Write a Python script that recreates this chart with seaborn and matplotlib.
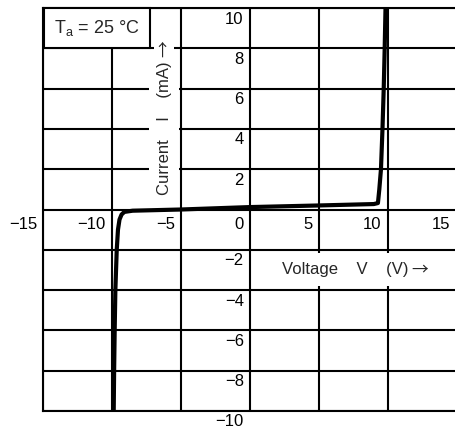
import matplotlib
matplotlib.use("Agg")
import matplotlib.pyplot as plt
import matplotlib.transforms as mtransforms
import seaborn as sns
import pandas as pd

# I-V curve (V in volts, I in mA)
voltage = [-9.87, -9.84, -9.80, -9.75, -9.65, -9.56, -9.45, -9.30, -9.10, -8.50,
           -5.0, 0.0, 5.0, 9.0, 9.30, 9.40, 9.52, 9.63, 9.72, 9.79, 9.85]
current = [-10.0, -8.0, -6.0, -4.0, -2.0, -1.0, -0.5, -0.25, -0.12, -0.06,
           0.0, 0.12, 0.2, 0.27, 0.32, 1.0, 2.0, 4.0, 6.0, 8.0, 10.0]

x_ticks = [-15, -10, -5, 0, 5, 10, 15]
y_ticks = [-10, -8, -6, -4, -2, 2, 4, 6, 8, 10]

sns.set_theme(style="white")
plt.rcParams["font.family"] = ["Liberation Sans", "DejaVu Sans"]
plt.rcParams["mathtext.fontset"] = "custom"
plt.rcParams["mathtext.rm"] = "Liberation Sans"

W, H = 456, 433
fig = plt.figure(figsize=(W / 100, H / 100), dpi=100)
ax = fig.add_axes([43 / W, 22 / H, 413.5 / W, 403 / H])

df = pd.DataFrame({"V": voltage, "I": current})
sns.lineplot(data=df, x="V", y="I", sort=False, estimator=None,
             color="black", linewidth=3.0, ax=ax, zorder=5)

ax.set_xlim(-15, 15)
ax.set_ylim(-10, 10)
ax.set_xticks(x_ticks)
ax.set_yticks([-10, -8, -6, -4, -2, 0, 2, 4, 6, 8, 10])
ax.grid(True, color="black", linewidth=1.5)
ax.tick_params(length=0, labelbottom=False, labelleft=False)
ax.set_xlabel("")
ax.set_ylabel("")
for side in ["left", "top", "bottom"]:
    ax.spines[side].set_color("black")
    ax.spines[side].set_linewidth(1.5)
ax.spines["right"].set_visible(False)

fs = 12
# x tick labels: right-aligned, just left of each gridline, below the V axis
for v in x_ticks:
    off = mtransforms.offset_copy(ax.transData, fig=fig, x=-6, y=-15, units="dots")
    ax.text(v, 0, str(v).replace("-", "\u2212"), transform=off, ha="right",
            va="center", fontsize=fs, color="black", zorder=6)
# y tick labels: right-aligned, left of the I axis, just under each gridline
for i in y_ticks:
    off = mtransforms.offset_copy(ax.transData, fig=fig, x=-6, y=-11, units="dots")
    ax.text(0, i, str(i).replace("-", "\u2212"), transform=off, ha="right",
            va="center", fontsize=fs, color="black", zorder=6)

white = dict(facecolor="white", edgecolor="none", boxstyle="square,pad=0.45")
arrow_font = ["Noto Sans CJK JP", "DejaVu Sans"]

# ambient temperature label in its own framed cell
ax.text(-14.19, 9.0, "T$_\\mathrm{a}$ = 25 \u00b0C", ha="left", va="center",
        fontsize=13, zorder=7,
        bbox=dict(facecolor="white", edgecolor="black", linewidth=1.5,
                  boxstyle="square,pad=0.55"))

# current axis label (vertical) with its arrow
cur = ax.text(-6.2, 0.74, "Current    I    (mA)", rotation=90, ha="center",
              va="bottom", fontsize=fs, bbox=white, zorder=6)
ax.annotate("\u2192", xy=(0.5, 1), xycoords=cur, xytext=(0, 3),
            textcoords="offset points", rotation=90, ha="center", va="bottom",
            fontsize=fs, family=arrow_font, zorder=7,
            bbox=dict(facecolor="white", edgecolor="none",
                      boxstyle="square,pad=0.1"))

# voltage axis label with its arrow
vol = ax.text(2.36, -2.98, "Voltage    V    (V)", ha="left", va="center",
              fontsize=fs, zorder=6,
              bbox=dict(facecolor="white", edgecolor="none",
                        boxstyle="square,pad=0.55"))
ax.annotate("\u2192", xy=(1, 0.5), xycoords=vol, xytext=(2, 0),
            textcoords="offset points", ha="left", va="center",
            fontsize=fs, family=arrow_font, zorder=6)

fig.savefig("out.png", dpi=100)
